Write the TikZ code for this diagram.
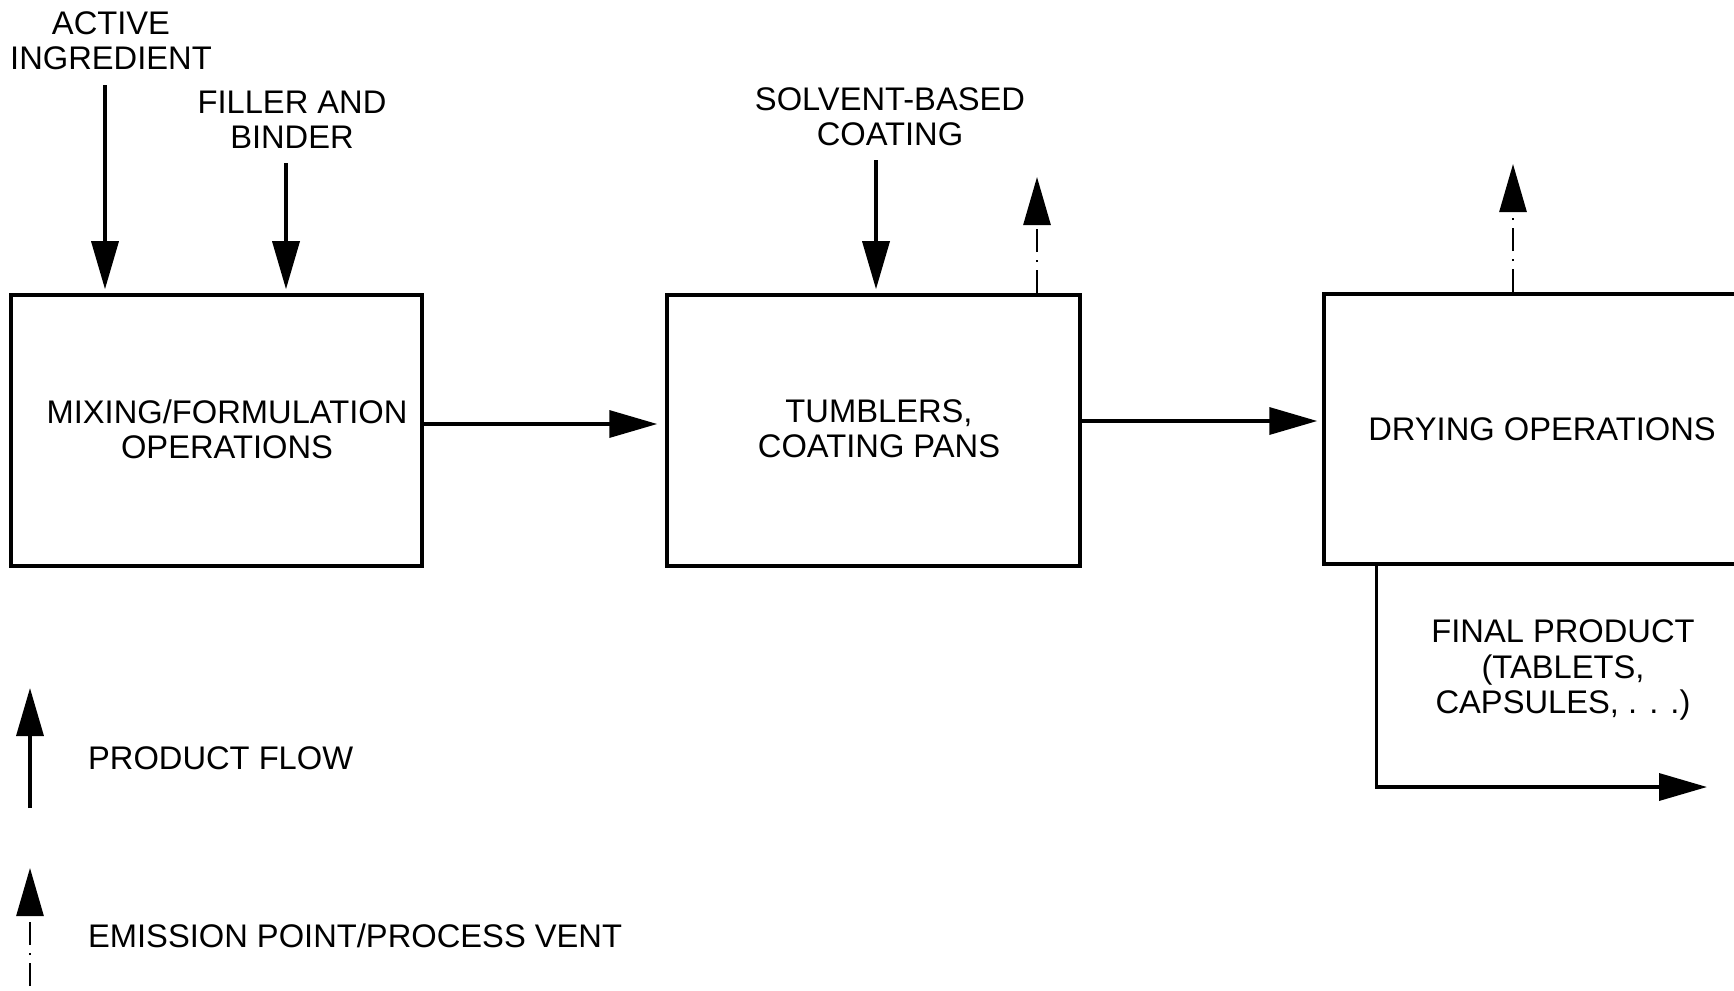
\documentclass[tikz,border=0pt]{standalone}
\usepackage{fontspec}
\setmainfont{Liberation Sans}
\usetikzlibrary{arrows.meta,positioning}

\begin{document}
\begin{tikzpicture}[
    every node/.style={font=\fontsize{18.6}{20.1}\selectfont, align=center},
    bx/.style={rectangle, draw, line width=2pt, inner sep=0pt},
    fl/.style={line width=2pt, -{Triangle[length=9.6mm, width=5.4mm]}},
    vt/.style={line width=1.6pt, dash pattern=on 0.46cm off 0.16cm on 0.04cm off 0.16cm,
               -{Triangle[length=9.6mm, width=5.4mm]}},
    lbl/.style={inner sep=1pt},
  ]
  \useasboundingbox (0,0) rectangle (34.68,-19.80);
  % process boxes
  \node[bx, minimum width=8.22cm, minimum height=5.42cm] (mix) at (4.33,-8.61) {};
  \node[bx, minimum width=8.26cm, minimum height=5.42cm] (tumb) at (17.47,-8.61) {};
  \node[bx, minimum width=8.72cm, minimum height=5.40cm] (dry) at (30.84,-8.58) {};
  \node[lbl] (mixtxt) at (4.54,-8.58) {MIXING/FORMULATION\\OPERATIONS};
  \node[lbl] (tumbtxt) at (17.58,-8.58) {TUMBLERS,\\COATING PANS};
  \node[lbl] (drytxt) at (30.84,-8.58) {DRYING OPERATIONS};
  % inputs
  \node[lbl] (act) at (2.22,-0.82) {ACTIVE\\INGREDIENT};
  \node[lbl] (fill) at (5.84,-2.40) {FILLER AND\\BINDER};
  \node[lbl] (solv) at (17.80,-2.33) {SOLVENT-BASED\\COATING};
  \node[lbl] (fin) at (31.26,-13.40) {FINAL PRODUCT\\(TABLETS,\\CAPSULES, . . .)};
  % legend
  \node[lbl, anchor=west] (keyflow) at (1.72,-15.16) {PRODUCT FLOW};
  \node[lbl, anchor=west] (keyvent) at (1.72,-18.72) {EMISSION POINT/PROCESS VENT};
  \coordinate (a1) at (2.10,-1.70);
  \coordinate (f1) at (5.72,-3.26);
  \coordinate (s1) at (17.52,-3.20);
  \coordinate (v2) at (20.74,-3.54);
  \coordinate (v3) at (30.26,-3.28);
  \coordinate (m2) at ([yshift=0.13cm]mix.east);
  \coordinate (t2) at ([yshift=0.19cm]tumb.east);
  \coordinate (finend) at (34.14,-15.74);
  \coordinate (kf0) at (0.60,-16.16);
  \coordinate (kf1) at (0.60,-13.76);
  \coordinate (kv0) at (0.60,-19.72);
  \coordinate (kv1) at (0.60,-17.36);
  % flows
  \draw[fl, shorten >=0.08cm] (a1) -- (a1 |- mix.north);
  \draw[fl, shorten >=0.08cm] (f1) -- (f1 |- mix.north);
  \draw[fl, shorten >=0.08cm] (s1) -- (s1 |- tumb.north);
  \draw[fl, shorten >=0.16cm] (m2) -- (m2 -| tumb.west);
  \draw[fl, shorten >=0.10cm] (t2) -- (t2 -| dry.west);
  \draw[fl] ([xshift=1.08cm]dry.south west) |- (finend);
  % vents
  \draw[vt] (v2 |- tumb.north) -- (v2);
  \draw[vt] (v3 |- dry.north) -- (v3);
  % legend arrows
  \draw[fl] (kf0) -- (kf1);
  \draw[vt] (kv0) -- (kv1);
\end{tikzpicture}
\end{document}
